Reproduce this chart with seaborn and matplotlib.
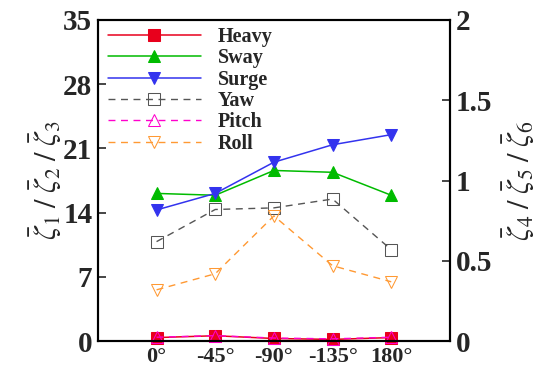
import matplotlib
matplotlib.use("Agg")
import matplotlib.pyplot as plt
import seaborn as sns

# headings and response values
headings = ["0°", "-45°", "-90°", "-135°", "180°"]
pos = [0, 1, 2, 3, 4]

heavy = [0.4, 0.6, 0.3, 0.2, 0.4]
sway = [16.1, 15.9, 18.6, 18.4, 15.9]
surge = [14.3, 16.1, 19.5, 21.4, 22.5]

yaw = [0.62, 0.82, 0.83, 0.885, 0.57]
pitch = [0.025, 0.035, 0.02, 0.015, 0.025]
roll = [0.32, 0.42, 0.78, 0.47, 0.37]

sns.set_style("ticks")
plt.rcParams["font.family"] = ["Liberation Serif", "DejaVu Serif"]
plt.rcParams["mathtext.fontset"] = "stix"

fig, ax = plt.subplots(figsize=(5.5, 3.75), dpi=100)
fig.subplots_adjust(left=0.178, right=0.818, top=0.947, bottom=0.09)
ax2 = ax.twinx()

ms = 8
sns.lineplot(x=pos, y=heavy, ax=ax, color="#e8001c", marker="s", markersize=ms,
             markeredgecolor="#e8001c", lw=1.1, label="Heavy", legend=False, clip_on=False)
sns.lineplot(x=pos, y=sway, ax=ax, color="#00bb00", marker="^", markersize=ms + 1,
             markeredgecolor="#00bb00", lw=1.1, label="Sway", legend=False)
sns.lineplot(x=pos, y=surge, ax=ax, color="#3333ee", marker="v", markersize=ms + 1,
             markeredgecolor="#3333ee", lw=1.1, label="Surge", legend=False)

sns.lineplot(x=pos, y=yaw, ax=ax2, color="#555555", marker="s", markersize=ms,
             markerfacecolor="none", markeredgecolor="#555555", lw=1.0,
             dashes=(5, 4), label="Yaw", legend=False)
sns.lineplot(x=pos, y=pitch, ax=ax2, color="#ff00cc", marker="^", markersize=ms + 1,
             markerfacecolor="none", markeredgecolor="#ff00cc", lw=1.0,
             dashes=(5, 4), label="Pitch", legend=False, clip_on=False)
sns.lineplot(x=pos, y=roll, ax=ax2, color="#ff9933", marker="v", markersize=ms + 1,
             markerfacecolor="none", markeredgecolor="#ff9933", lw=1.0,
             dashes=(5, 4), label="Roll", legend=False)

ax.set_xlim(-1, 5)
ax.set_ylim(0, 35)
ax2.set_ylim(0, 2)
ax.set_xticks(pos)
ax.set_xticklabels(headings, fontsize=16, fontweight="bold")
ax.set_yticks([0, 7, 14, 21, 28, 35])
ax.set_yticklabels(["0", "7", "14", "21", "28", "35"], fontsize=21, fontweight="bold")
ax2.set_yticks([0, 0.5, 1, 1.5, 2])
ax2.set_yticklabels(["0", "0.5", "1", "1.5", "2"], fontsize=21, fontweight="bold")

ax.tick_params(axis="x", length=0, pad=4)
ax.tick_params(axis="y", direction="in", length=6, width=1.2, pad=4)
ax2.tick_params(axis="y", direction="in", length=6, width=1.2, pad=4)
for a in (ax, ax2):
    for s in a.spines.values():
        s.set_linewidth(1.5)
        s.set_color("black")

ax.set_ylabel(r"$\bar{\zeta}_1\;/\;\bar{\zeta}_2\;/\;\bar{\zeta}_3$", fontsize=22, labelpad=0)
ax2.set_ylabel(r"$\bar{\zeta}_4\;/\;\bar{\zeta}_5\;/\;\bar{\zeta}_6$", fontsize=22, labelpad=6)

h1, l1 = ax.get_legend_handles_labels()
h2, l2 = ax2.get_legend_handles_labels()
leg = ax2.legend(h1 + h2, l1 + l2, loc="upper left", bbox_to_anchor=(0.0, 1.01),
                 frameon=False, handlelength=4.6, handletextpad=0.85,
                 labelspacing=0.07, borderaxespad=0.1,
                 prop={"family": "Liberation Serif", "weight": "bold", "size": 14.5})

fig.savefig("out.png", dpi=100)
plt.close(fig)
